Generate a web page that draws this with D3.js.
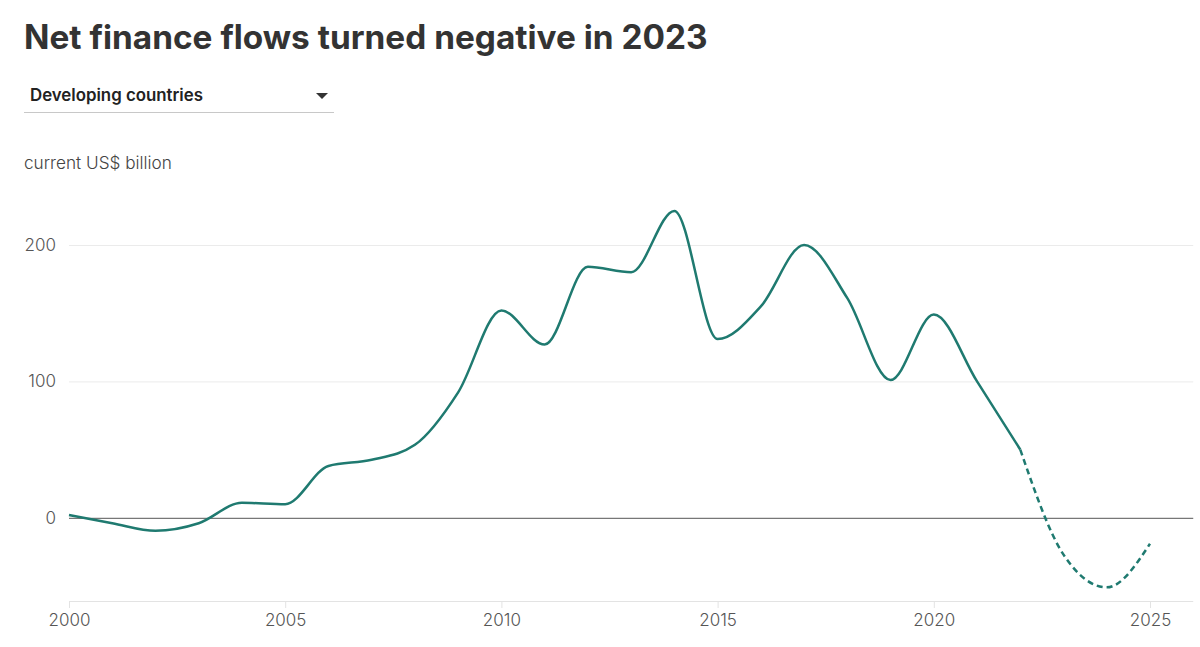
<!DOCTYPE html>
<html>
<head>
<meta charset="utf-8">
<script src="https://cdn.jsdelivr.net/npm/d3@7"></script>
<style>
  body { margin: 0; background: #fff; }
  text { font-family: Inter, "Noto Sans", sans-serif; }
</style>
</head>
<body>
<div id="chart"></div>
<script>
// data (S)
const years = d3.range(2000, 2026);
const values = [2, -4, -9.5, -4, 11, 10, 38, 42.5, 53.5, 92, 152, 127, 184, 180, 225,
  131, 155, 200, 161, 101, 149, 100, 50, -27, -51, -19];
const lastActual = 2022;
const yTicks = [0, 100, 200];
const xTicks = [2000, 2005, 2010, 2015, 2020, 2025];
// data (E)

const width = 1200, height = 647;
const dataset = years.map((y, i) => ({ year: y, value: values[i] }));

const svg = d3.select('#chart').append('svg')
  .attr('width', width).attr('height', height);

const xScale = d3.scaleLinear().domain([2000, 2025]).range([69, 1150]);
const yScale = d3.scaleLinear().domain([-61, 200]).range([601, 245]);
const right = xScale(2026);

// scale font so a text spans the width
const fitWidth = (sel, size, target) => {
  const w = sel.node().getComputedTextLength();
  sel.style('font-size', (size * target / w) + 'px');
};

// title + dropdown
const title = svg.append('text')
  .text('Net finance flows turned negative in 2023')
  .attr('x', 24).attr('y', 49)
  .attr('fill', '#333')
  .style('font-weight', 700)
  .style('font-size', '32px');
fitWidth(title, 32, 684);

const dropdown = svg.append('text')
  .text('Developing countries')
  .attr('x', 30).attr('y', 101)
  .attr('fill', '#222')
  .style('font-weight', 600)
  .style('font-size', '16px');
fitWidth(dropdown, 16, 173);

svg.append('path')
  .attr('d', 'M316,93 L328,93 L322,99 Z')
  .attr('fill', '#333');

svg.append('line')
  .attr('x1', 24).attr('x2', 334).attr('y1', 112.5).attr('y2', 112.5)
  .attr('stroke', '#c8c8c8');

const unit = svg.append('text')
  .text('current US$ billion')
  .attr('x', 24).attr('y', 169)
  .attr('fill', '#444')
  .style('font-weight', 300)
  .style('font-size', '16px');
fitWidth(unit, 16, 148);

// axes
const mainG = svg.append('g');

const yAxis = d3.axisLeft(yScale)
  .tickValues(yTicks)
  .tickSize(0)
  .tickPadding(13);

const yG = mainG.append('g')
  .attr('transform', 'translate(69,0)')
  .call(yAxis);
yG.select('.domain').remove();
yG.selectAll('.tick text')
  .attr('fill', '#555')
  .style('font-size', '17px')
  .style('font-weight', 300)
  .style('font-family', 'Inter, sans-serif');

mainG.selectAll('.grid')
  .data(yTicks)
  .join('line')
  .attr('x1', 69).attr('x2', right)
  .attr('y1', d => yScale(d) + 0.5).attr('y2', d => yScale(d) + 0.5)
  .attr('stroke', d => d === 0 ? '#777' : '#ebebeb')
  .attr('stroke-width', d => d === 0 ? 1.3 : 1);

const xAxis = d3.axisBottom(xScale)
  .tickValues(xTicks)
  .tickFormat(d3.format('d'))
  .tickSize(7)
  .tickPadding(6);

const xG = mainG.append('g')
  .attr('transform', 'translate(0,601)')
  .call(xAxis);
xG.select('.domain').remove();
xG.selectAll('.tick line').attr('stroke', '#e3e3e3');
xG.selectAll('.tick text')
  .attr('fill', '#555')
  .style('font-size', '17px')
  .style('font-weight', 300)
  .style('font-family', 'Inter, sans-serif');

mainG.append('line')
  .attr('x1', 69).attr('x2', right).attr('y1', 601.5).attr('y2', 601.5)
  .attr('stroke', '#e3e3e3');

// line (S)
const lineGen = d3.line()
  .x(d => xScale(d.year))
  .y(d => yScale(d.value))
  .curve(d3.curveMonotoneX);

mainG.append('path')
  .attr('d', lineGen(dataset.filter(d => d.year <= lastActual)))
  .attr('fill', 'none')
  .attr('stroke', '#1f7a70')
  .attr('stroke-width', 2.5)
  .attr('stroke-linejoin', 'round');

mainG.append('path')
  .attr('d', lineGen(dataset.filter(d => d.year >= lastActual)))
  .attr('fill', 'none')
  .attr('stroke', '#1f7a70')
  .attr('stroke-width', 2.5)
  .attr('stroke-dasharray', '6,4');
// line (E)
</script>
</body>
</html>
